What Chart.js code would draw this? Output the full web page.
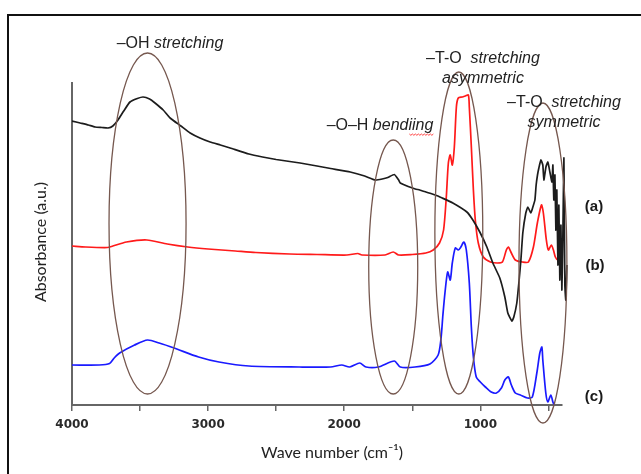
<!DOCTYPE html>
<html>
<head>
<meta charset="utf-8">
<script src="https://cdn.jsdelivr.net/npm/chart.js@4.4.1/dist/chart.umd.min.js"></script>
<style>
    html, body { margin: 0; padding: 0; background: #fff; }
    #wrap { width: 641px; height: 474px; }
</style>
</head>
<body>
<div id="wrap"><canvas id="ftirChart" width="641" height="474"></canvas></div>
<script>
// spectrum (a) - black
const waveA = [4000, 3940, 3880, 3830, 3780, 3735, 3700, 3662, 3620, 3574, 3520, 3478, 3430, 3390, 3330, 3279, 3200, 3132, 3060, 2985,
    2910, 2838, 2700, 2600, 2500, 2400, 2324, 2200, 2100, 1956, 1850, 1772, 1721, 1680, 1632, 1600, 1588, 1530, 1478, 1445,
    1400, 1331, 1280, 1202, 1099, 1055, 1004, 952, 908, 857, 820, 798, 768, 754, 732, 717, 702, 688, 666, 651,
    629, 614, 599, 590, 580, 570, 555, 541, 533, 518, 504, 489, 474, 467, 460, 452, 445, 438, 430, 423,
    416, 408, 401, 394, 386, 379, 372, 364];
const absA = [2.84, 2.82, 2.80, 2.78, 2.775, 2.77, 2.79, 2.85, 2.94, 3.03, 3.065, 3.08, 3.06, 3.02, 2.95, 2.87, 2.79, 2.72, 2.67, 2.63,
    2.60, 2.57, 2.51, 2.48, 2.455, 2.435, 2.42, 2.39, 2.365, 2.33, 2.29, 2.25, 2.26, 2.275, 2.305, 2.25, 2.22, 2.185, 2.16, 2.15,
    2.13, 2.10, 2.07, 2.02, 1.93, 1.85, 1.73, 1.58, 1.42, 1.27, 1.08, 0.92, 0.84, 0.88, 1.02, 1.22, 1.45, 1.72, 1.92, 1.98,
    1.92, 1.98, 2.05, 2.20, 2.30, 2.37, 2.45, 2.40, 2.25, 2.38, 2.43, 2.33, 2.23, 2.40, 2.05, 2.30, 1.75, 2.15, 1.40, 2.00,
    1.25, 1.80, 1.15, 1.65, 2.47, 1.20, 1.05, 1.40];

// spectrum (b) - red
const waveB = [4000, 3900, 3740, 3700, 3600, 3450, 3300, 3150, 3000, 2800, 2650, 2400, 2200, 1980, 1900, 1870, 1700, 1640, 1600, 1500,
    1400, 1346, 1300, 1270, 1250, 1235, 1221, 1206, 1191, 1176, 1162, 1132, 1110, 1088, 1081, 1066, 1051, 1037, 1015, 978,
    926, 875, 838, 809, 794, 772, 743, 691, 647, 610, 581, 551, 537, 515, 500, 478, 463, 449, 430, 400];
const absB = [1.59, 1.58, 1.575, 1.59, 1.63, 1.65, 1.61, 1.58, 1.56, 1.54, 1.525, 1.51, 1.505, 1.50, 1.515, 1.50, 1.50, 1.53, 1.50, 1.505,
    1.52, 1.55, 1.62, 1.75, 2.08, 2.42, 2.50, 2.40, 2.58, 2.98, 3.07, 3.08, 3.09, 3.10, 2.98, 2.58, 2.15, 1.85, 1.62, 1.48,
    1.43, 1.42, 1.43, 1.55, 1.58, 1.52, 1.45, 1.43, 1.43, 1.58, 1.82, 2.00, 1.92, 1.65, 1.55, 1.60, 1.55, 1.48, 1.45, 1.47];

// spectrum (c) - blue
const waveC = [4000, 3800, 3724, 3690, 3650, 3540, 3445, 3360, 3250, 3070, 2920, 2700, 2330, 2100, 2018, 1960, 1886, 1840, 1750, 1632,
    1588, 1480, 1370, 1310, 1290, 1275, 1260, 1240, 1221, 1206, 1184, 1162, 1143, 1121, 1103, 1081, 1066, 1051, 1030, 1000,
    963, 920, 882, 845, 820, 794, 772, 743, 706, 654, 618, 585, 563, 548, 541, 519, 504, 482, 467, 455];
const absC = [0.40, 0.40, 0.415, 0.47, 0.52, 0.60, 0.65, 0.62, 0.57, 0.48, 0.43, 0.39, 0.38, 0.38, 0.40, 0.38, 0.42, 0.38, 0.38, 0.44,
    0.38, 0.38, 0.41, 0.50, 0.65, 0.90, 1.12, 1.33, 1.25, 1.42, 1.57, 1.55, 1.58, 1.63, 1.55, 1.22, 0.78, 0.48, 0.28, 0.23,
    0.18, 0.13, 0.12, 0.17, 0.25, 0.28, 0.20, 0.12, 0.10, 0.07, 0.08, 0.32, 0.52, 0.58, 0.45, 0.12, 0.03, 0.10, 0.03, -0.01];

const seriesLabels = ['(a)', '(b)', '(c)'];
const seriesColors = ['#1c1c1c', '#ff1a1a', '#1a1aff'];

// x ticks every 500, labels only on the thousands
const tickValues = [4000, 3500, 3000, 2500, 2000, 1500, 1000, 500];

// band ellipses: centre wavenumber, centre absorbance, half width (cm-1), half height
const bandCentre = [3445, 1640, 1158, 540];
const bandLevel = [1.815, 1.38, 1.72, 1.42];
const bandHalfW = [283, 180, 176, 176];
const bandHalfH = [1.705, 1.27, 1.61, 1.60];

function toPoints(xs, ys) {
    return xs.map((x, i) => ({ x: x, y: ys[i] }));
}

const annotations = {
    id: 'annotations',
    afterDatasetsDraw(chart) {
        const { ctx, scales: { x, y } } = chart;
        ctx.save();

        // ellipses round the bands
        ctx.strokeStyle = '#76584f';
        ctx.lineWidth = 1.3;
        for (let i = 0; i < bandCentre.length; i++) {
            const cx = x.getPixelForValue(bandCentre[i]);
            const cy = y.getPixelForValue(bandLevel[i]);
            const rx = Math.abs(x.getPixelForValue(bandCentre[i] + bandHalfW[i]) - cx);
            const ry = Math.abs(y.getPixelForValue(bandLevel[i] + bandHalfH[i]) - cy);
            ctx.beginPath();
            ctx.ellipse(cx, cy, rx, ry, 0, 0, Math.PI * 2);
            ctx.stroke();
        }

        // band texts: plain part + italic part
        const mixed = (plain, italic, cx, cy) => {
            ctx.font = '16px "Liberation Sans", Arial, sans-serif';
            const w1 = ctx.measureText(plain).width;
            ctx.font = 'italic 16px "Liberation Sans", Arial, sans-serif';
            const w2 = ctx.measureText(italic).width;
            let left = cx - (w1 + w2) / 2;
            ctx.fillStyle = '#222';
            ctx.textBaseline = 'middle';
            ctx.textAlign = 'left';
            ctx.font = '16px "Liberation Sans", Arial, sans-serif';
            ctx.fillText(plain, left, cy);
            ctx.font = 'italic 16px "Liberation Sans", Arial, sans-serif';
            ctx.fillText(italic, left + w1, cy);
            return left + w1 + w2;
        };
        mixed('–OH ', 'stretching', 170, 44);
        mixed('–T-O  ', 'stretching', 483, 59);
        mixed('', 'asymmetric', 483, 79);
        const endBend = mixed('–O–H ', 'bendiing', 380, 126);
        mixed('–T-O  ', 'stretching', 564, 103);
        mixed('', 'symmetric', 564, 123);

        // spell-check squiggle under "bendiing"
        ctx.strokeStyle = '#ff4040';
        ctx.lineWidth = 1;
        ctx.beginPath();
        for (let px = endBend - 24, k = 0; px <= endBend; px += 1.5, k++) {
            const py = 134 + (k % 2 === 0 ? 0 : 1.3);
            if (k === 0) ctx.moveTo(px, py); else ctx.lineTo(px, py);
        }
        ctx.stroke();

        // series labels
        ctx.font = 'bold 15px "Liberation Sans", Arial, sans-serif';
        ctx.fillStyle = '#1a1a1a';
        ctx.textAlign = 'center';
        ctx.textBaseline = 'middle';
        ctx.fillText(seriesLabels[0], 594, 207);
        ctx.fillText(seriesLabels[1], 595, 266);
        ctx.fillText(seriesLabels[2], 594, 397);

        // axis titles
        ctx.font = '16px Lato, "Open Sans", sans-serif';
        ctx.fillStyle = '#222';
        ctx.fillText('Wave number (cm⁻¹)', 332, 453);
        ctx.save();
        ctx.translate(41, 242);
        ctx.rotate(-Math.PI / 2);
        ctx.fillText('Absorbance (a.u.)', 0, 0);
        ctx.restore();

        // outer frame
        ctx.strokeStyle = '#111';
        ctx.lineWidth = 2;
        ctx.beginPath();
        ctx.moveTo(8, 480);
        ctx.lineTo(8, 15);
        ctx.lineTo(645, 15);
        ctx.stroke();

        ctx.restore();
    }
};

const chart = new Chart(document.getElementById('ftirChart'), {
    type: 'line',
    data: {
        datasets: [
            { label: seriesLabels[0], data: toPoints(waveA, absA), borderColor: seriesColors[0], tension: 0.15,
              clip: { left: 0, top: 0, right: 8, bottom: 0 } },
            { label: seriesLabels[1], data: toPoints(waveB, absB), borderColor: seriesColors[1] },
            { label: seriesLabels[2], data: toPoints(waveC, absC), borderColor: seriesColors[2] }
        ]
    },
    options: {
        responsive: false,
        animation: false,
        devicePixelRatio: 1,
        layout: { padding: { top: 83, right: 79, left: 0, bottom: 0 } },
        elements: {
            point: { radius: 0 },
            line: { borderWidth: 1.7, tension: 0.25, fill: false }
        },
        plugins: {
            legend: { display: false },
            tooltip: { enabled: false }
        },
        scales: {
            x: {
                type: 'linear',
                reverse: true,
                min: 400,
                max: 4000,
                afterFit: (scale) => { scale.height = 69; },
                afterBuildTicks: (scale) => {
                    scale.ticks = tickValues.map(v => ({ value: v }));
                },
                ticks: {
                    autoSkip: false,
                    maxRotation: 0,
                    padding: 7,
                    color: '#2a2a2a',
                    font: { family: 'DejaVu Sans', size: 12, weight: 'bold' },
                    callback: (v) => (v % 1000 === 0 ? String(v) : '')
                },
                grid: { drawOnChartArea: false, tickLength: 6, color: '#666', lineWidth: 1.5 },
                border: { color: '#666', width: 2 }
            },
            y: {
                min: 0,
                max: 3.22,
                afterFit: (scale) => { scale.width = 72; },
                ticks: { display: false },
                grid: { display: false },
                border: { display: true, color: '#666', width: 2 }
            }
        }
    },
    plugins: [annotations]
});
</script>
</body>
</html>
